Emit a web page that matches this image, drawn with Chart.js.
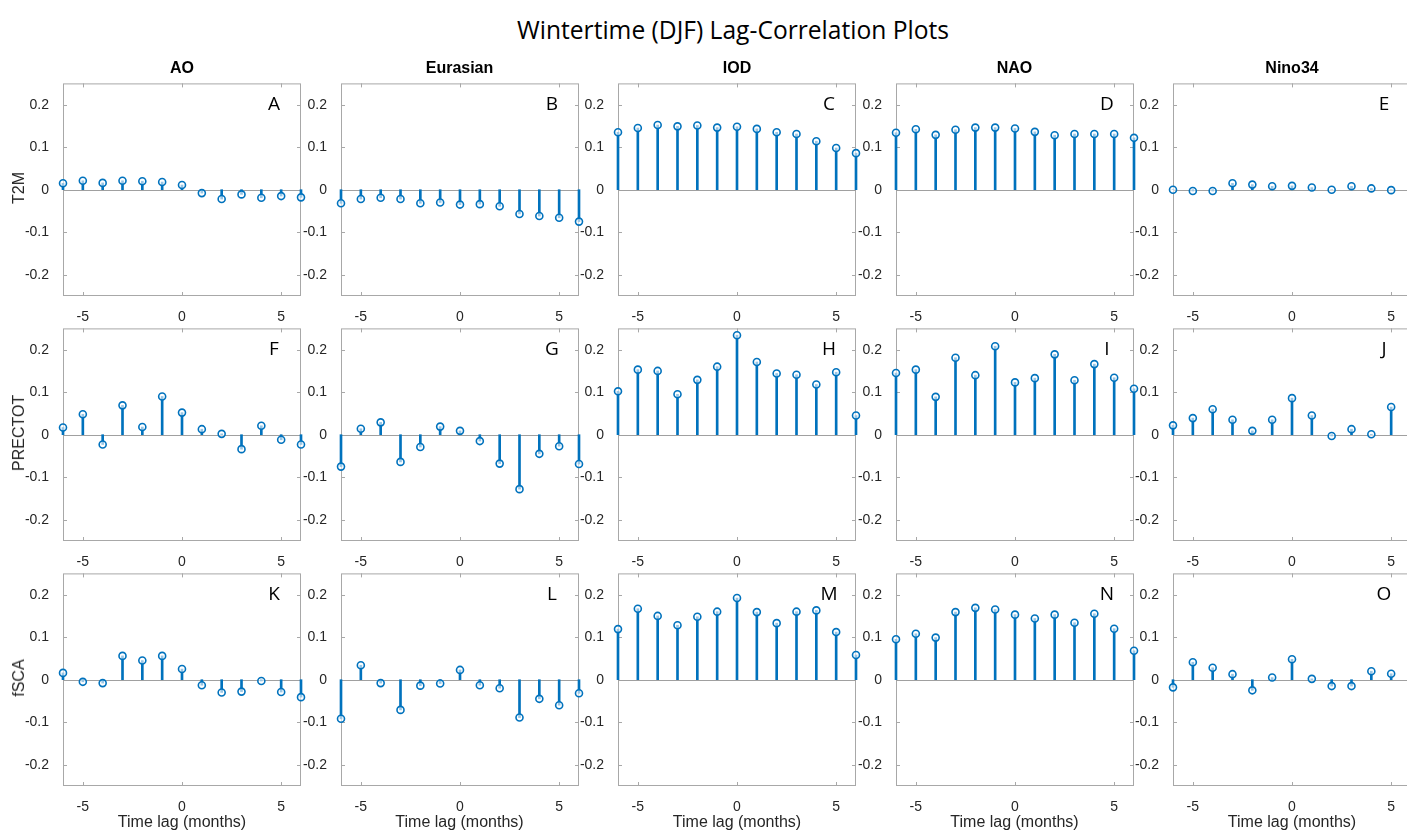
<!DOCTYPE html>
<html>
<head>
<meta charset="utf-8">
<script src="https://cdn.jsdelivr.net/npm/chart.js@4.4.1/dist/chart.umd.min.js"></script>
<style>
body { margin:0; width:1407px; height:832px; overflow:hidden; background:#fff; position:relative; font-family:"Liberation Sans", Arial, sans-serif; color:#262626; }
.box { position:absolute; }
.txt { position:absolute; white-space:nowrap; transform:translate(-50%,-50%); }
.col { font-weight:bold; font-size:16px; color:#000; }
.row { font-size:16px; transform:translate(-50%,-50%) rotate(-90deg); }
.xl { font-size:16px; }
</style>
</head>
<body>
<div class="txt" style="left:733px; top:29px; font-family:'Open Sans'; font-size:24.6px; color:#000;">Wintertime (DJF) Lag-Correlation Plots</div>
<script>
// lags (months) and labels
var lags = [-6, -5, -4, -3, -2, -1, 0, 1, 2, 3, 4, 5, 6];
var indices = ["AO", "Eurasian", "IOD", "NAO", "Nino34"];
var variables = ["T2M", "PRECTOT", "fSCA"];
var panelLetters = ["A","B","C","D","E","F","G","H","I","J","K","L","M","N","O"];
var xTicks = [-5, 0, 5];
var xTickLabels = ["-5", "0", "5"];
var yTicks = [-0.2, -0.1, 0, 0.1, 0.2];
var yTickLabels = ["-0.2", "-0.1", "0", "0.1", "0.2"];

// T2M
var t2mAO       = [0.015, 0.021, 0.016, 0.021, 0.020, 0.018, 0.011, -0.008, -0.022, -0.011, -0.019, -0.015, -0.018];
var t2mEurasian = [-0.032, -0.022, -0.019, -0.022, -0.032, -0.030, -0.035, -0.034, -0.039, -0.057, -0.062, -0.066, -0.075];
var t2mIOD      = [0.135, 0.145, 0.152, 0.149, 0.151, 0.146, 0.148, 0.143, 0.135, 0.131, 0.114, 0.098, 0.086];
var t2mNAO      = [0.134, 0.142, 0.129, 0.141, 0.146, 0.146, 0.144, 0.136, 0.128, 0.131, 0.131, 0.131, 0.122];
var t2mNino34   = [0.000, -0.003, -0.003, 0.015, 0.012, 0.008, 0.009, 0.005, 0.000, 0.008, 0.003, -0.001];
// PRECTOT
var precAO       = [0.017, 0.048, -0.023, 0.069, 0.018, 0.090, 0.052, 0.013, 0.002, -0.034, 0.021, -0.012, -0.023];
var precEurasian = [-0.075, 0.014, 0.029, -0.064, -0.029, 0.019, 0.009, -0.015, -0.068, -0.128, -0.045, -0.027, -0.069];
var precIOD      = [0.102, 0.153, 0.150, 0.095, 0.129, 0.160, 0.234, 0.171, 0.144, 0.141, 0.118, 0.147, 0.045];
var precNAO      = [0.145, 0.153, 0.089, 0.181, 0.140, 0.208, 0.123, 0.133, 0.189, 0.128, 0.166, 0.134, 0.108];
var precNino34   = [0.022, 0.039, 0.060, 0.035, 0.009, 0.035, 0.086, 0.045, -0.003, 0.013, 0.001, 0.065];
// fSCA
var fscaAO       = [0.016, -0.005, -0.008, 0.056, 0.045, 0.056, 0.025, -0.013, -0.030, -0.028, -0.003, -0.029, -0.041];
var fscaEurasian = [-0.092, 0.034, -0.008, -0.071, -0.014, -0.009, 0.023, -0.013, -0.020, -0.089, -0.045, -0.060, -0.032];
var fscaIOD      = [0.119, 0.167, 0.150, 0.128, 0.148, 0.160, 0.192, 0.159, 0.133, 0.160, 0.163, 0.112, 0.058];
var fscaNAO      = [0.095, 0.108, 0.099, 0.159, 0.169, 0.165, 0.153, 0.144, 0.153, 0.134, 0.155, 0.120, 0.068];
var fscaNino34   = [-0.018, 0.041, 0.028, 0.013, -0.025, 0.005, 0.048, 0.002, -0.015, -0.015, 0.020, 0.014];

var rows = [
    [t2mAO, t2mEurasian, t2mIOD, t2mNAO, t2mNino34],
    [precAO, precEurasian, precIOD, precNAO, precNino34],
    [fscaAO, fscaEurasian, fscaIOD, fscaNAO, fscaNino34]
];

var blue = "#0072BD";
var tickFont = {family: "'Liberation Sans', Arial, sans-serif", size: 14};
var plotW = 238, plotH = 217;
var padL = 60, padT = 10, padR = 14, padB = 30;

// box, inward ticks, baseline and panel letter like matlab
var matlabBox = {
    id: "matlabBox",
    beforeDatasetsDraw: function (chart) {
        var a = chart.chartArea, ctx = chart.ctx;
        var xs = chart.scales.x, ys = chart.scales.y;
        ctx.save();
        ctx.strokeStyle = "#a8a8a8";
        ctx.lineWidth = 1;
        ctx.strokeRect(a.left + 0.5, a.top + 0.5, a.right - a.left - 1, a.bottom - a.top - 1);
        ctx.beginPath();
        xTicks.forEach(function (v) {
            var px = Math.round(xs.getPixelForValue(v)) + 0.5;
            ctx.moveTo(px, a.bottom); ctx.lineTo(px, a.bottom - 4);
            ctx.moveTo(px, a.top); ctx.lineTo(px, a.top + 4);
        });
        yTicks.forEach(function (v) {
            var py = Math.round(ys.getPixelForValue(v)) + 0.5;
            ctx.moveTo(a.left, py); ctx.lineTo(a.left + 4, py);
            ctx.moveTo(a.right, py); ctx.lineTo(a.right - 4, py);
        });
        ctx.stroke();
        var y0 = Math.round(ys.getPixelForValue(0)) + 0.5;
        ctx.strokeStyle = "#a0a0a0";
        ctx.beginPath();
        ctx.moveTo(a.left, y0); ctx.lineTo(a.right, y0);
        ctx.stroke();
        ctx.restore();
    },
    afterDraw: function (chart, args, opts) {
        var a = chart.chartArea, ctx = chart.ctx;
        ctx.save();
        ctx.font = "19px 'Open Sans'";
        ctx.fillStyle = "#000";
        ctx.textAlign = "center";
        ctx.textBaseline = "middle";
        ctx.fillText(opts.letter, a.right - 27, a.top + 21);
        ctx.restore();
    }
};

function addText(cls, txt, x, y) {
    var d = document.createElement("div");
    d.className = "txt " + cls;
    d.style.left = x + "px";
    d.style.top = y + "px";
    d.textContent = txt;
    document.body.appendChild(d);
}

function makePanel(r, c) {
    var values = rows[r][c];
    var pts = [];
    for (let i = 0; i < values.length; i++) {
        pts.push({x: lags[i], y: values[i]});
    }
    var left = 63 + 277.5 * c;
    var top = 79 + 245 * r;
    var div = document.createElement("div");
    div.className = "box";
    div.style.left = (left - padL) + "px";
    div.style.top = (top - padT) + "px";
    var cv = document.createElement("canvas");
    cv.width = padL + plotW + padR;
    cv.height = padT + plotH + padB;
    div.appendChild(cv);
    document.body.appendChild(div);

    new Chart(cv, {
        type: "bar",
        data: {
            datasets: [
                {
                    type: "line", data: pts, showLine: false,
                    pointStyle: "circle", pointRadius: 3.5, pointHoverRadius: 3.5,
                    borderColor: blue, backgroundColor: "rgba(255,255,255,0.6)",
                    pointBorderWidth: 1.6, clip: false, order: 0
                },
                {
                    type: "bar", data: pts, backgroundColor: blue,
                    barThickness: 2, clip: false, order: 1
                }
            ]
        },
        options: {
            responsive: false,
            animation: false,
            layout: {padding: {top: padT, right: padR, left: 0, bottom: 0}},
            plugins: {
                legend: {display: false},
                tooltip: {enabled: false},
                matlabBox: {letter: panelLetters[r * 5 + c]}
            },
            scales: {
                x: {
                    type: "linear", min: -6, max: 6, offset: false,
                    grid: {display: false, offset: false},
                    border: {display: false},
                    afterBuildTicks: function (s) { s.ticks = xTicks.map(function (v) { return {value: v}; }); },
                    afterFit: function (s) { s.height = padB; },
                    ticks: {
                        font: tickFont, color: "#262626", padding: 5, maxRotation: 0,
                        callback: function (v) { return xTickLabels[xTicks.indexOf(v)]; }
                    }
                },
                y: {
                    type: "linear", min: -0.25, max: 0.25,
                    grid: {display: false},
                    border: {display: false},
                    afterBuildTicks: function (s) { s.ticks = yTicks.map(function (v) { return {value: v}; }); },
                    afterFit: function (s) { s.width = padL; },
                    ticks: {
                        font: tickFont, color: "#262626", padding: 6,
                        callback: function (v) { return yTickLabels[yTicks.indexOf(v)]; }
                    }
                }
            }
        },
        plugins: [matlabBox]
    });

    if (r == 0) addText("col", indices[c], left + plotW / 2, 68);
    if (r == 2) addText("xl", "Time lag (months)", left + plotW / 2, 822);
    if (c == 0) addText("row", variables[r], 19, top + plotH / 2);
}

for (let r = 0; r < 3; r++) {
    for (let c = 0; c < 5; c++) {
        makePanel(r, c);
    }
}
</script>
</body>
</html>
